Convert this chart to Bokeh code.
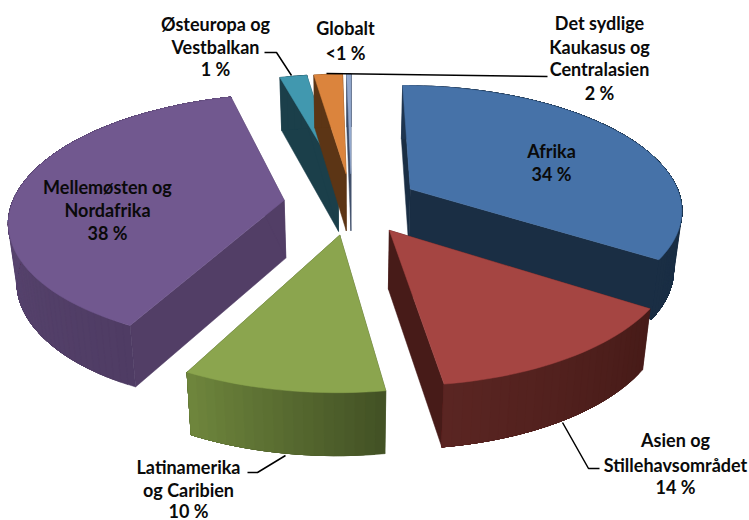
import math
from bokeh.plotting import figure
from bokeh.models import Range1d
from bokeh.core.properties import value
from bokeh.embed import file_html
from bokeh.resources import INLINE

categories = ["Afrika", "Asien og Stillehavsområdet", "Latinamerika og Caribien",
              "Mellemøsten og Nordafrika", "Østeuropa og Vestbalkan",
              "Det sydlige Kaukasus og Centralasien", "Globalt"]
shares = [34.2, 13.5, 9.9, 38.2, 1.9, 2.0, 0.3]
top_colors = ["#4672A8", "#A54542", "#8BA54E", "#71588F", "#4198AF", "#DB843D", "#93A9CF"]
wall_a = ["#1E3550", "#471B18", "#435225", "#4F3C64", "#1B3F4A", "#5C3515", "#3A4A66"]
wall_b = ["#1A2E44", "#5A2522", "#6E853C", "#65507F", "#1B3F4A", "#5C3515", "#3A4A66"]
side_colors = ["#1A2E44", "#471B18", "#435225", "#523E66", "#1B3F4A", "#5C3515", "#3A4A66"]
draw_order = [4, 5, 6, 0, 3, 2, 1]

label_lines = [
    ("Østeuropa og", 215, 23), ("Vestbalkan", 215, 46), ("1 %", 215, 68),
    ("Globalt", 345, 27), ("<1 %", 345, 52),
    ("Det sydlige", 599, 22), ("Kaukasus og", 599, 46), ("Centralasien", 599, 68), ("2 %", 599, 92),
    ("Afrika", 551, 150), ("34 %", 551, 173),
    ("Mellemøsten og", 107, 186), ("Nordafrika", 107, 209), ("38 %", 107, 232),
    ("Asien og", 675, 439), ("Stillehavsområdet", 675, 464), ("14 %", 675, 486),
    ("Latinamerika", 188, 466), ("og Caribien", 188, 489), ("10 %", 188, 510),
]
leaders = [
    ([264, 276, 291], [52, 52, 75]),
    ([326, 547], [73, 76]),
    ([562, 588, 599], [422, 468, 468]),
    ([285, 257, 247], [455, 472, 472]),
]

CX, CY, A, B, P, EXPLODE = 351, 203, 272, 123.2, 0.151, 0.25


def top(u, v):
    s = 1 / (1 + P * v)
    return CX + A * u * s, CY - B * v * s


def bottom(u, v):
    x, y = top(u, v)
    return CX + (x - CX) * 0.975, y + 58 - 4 * v


def mix(c1, c2, t):
    a = [int(c1[i:i + 2], 16) for i in (1, 3, 5)]
    b = [int(c2[i:i + 2], 16) for i in (1, 3, 5)]
    return "#%02X%02X%02X" % tuple(round(a[i] + (b[i] - a[i]) * t) for i in range(3))


p = figure(width=749, height=520, output_backend="svg", toolbar_location=None,
           x_range=Range1d(0, 749), y_range=Range1d(520, 0), min_border=0,
           outline_line_color=None)
p.axis.visible = False
p.grid.visible = False

total = sum(shares)
bounds = [0.0]
for s in shares:
    bounds.append(bounds[-1] + s / total * 2 * math.pi)

for i in draw_order:
    a0, a1 = bounds[i], bounds[i + 1]
    mid = (a0 + a1) / 2
    ou, ov = EXPLODE * math.sin(mid), EXPLODE * math.cos(mid)
    n = max(4, int((a1 - a0) / 0.03))
    ang = [a0 + (a1 - a0) * k / n for k in range(n + 1)]
    rim = [(ou + math.sin(t), ov + math.cos(t)) for t in ang]
    apex = (ou, ov)
    # radial cut faces
    for e in (rim[0], rim[-1]):
        q = [top(*apex), top(*e), bottom(*e), bottom(*apex)]
        p.patch([c[0] for c in q], [c[1] for c in q], fill_color=side_colors[i],
                line_color=side_colors[i], line_width=0.5)
    # outer wall in shaded strips, painted from one end so each overlaps the next
    for k in range(n):
        e0 = rim[k]
        q = [top(*e0)] + [top(*e) for e in rim[k + 1:]] + [bottom(*e) for e in rim[:k:-1]] + [bottom(*e0)]
        c = mix(wall_a[i], wall_b[i], k / max(1, n - 1))
        p.patch([c_[0] for c_ in q], [c_[1] for c_ in q], fill_color=c,
                line_color=c, line_width=0.5)
    # top face
    face = [top(*apex)] + [top(*e) for e in rim]
    p.patch([c[0] for c in face], [c[1] for c in face], fill_color=top_colors[i],
            line_color=top_colors[i], line_width=0.5)

for xs, ys in leaders:
    p.line(xs, ys, line_color="#000000", line_width=1.5)

p.text([l[1] for l in label_lines], [l[2] for l in label_lines], text=[l[0] for l in label_lines],
       text_font=value("Lato"), text_font_style="bold", text_font_size="18px",
       text_align="center", text_baseline="middle", text_color="#0A0A0A")

open("out.html", "w").write(file_html(p, INLINE))
